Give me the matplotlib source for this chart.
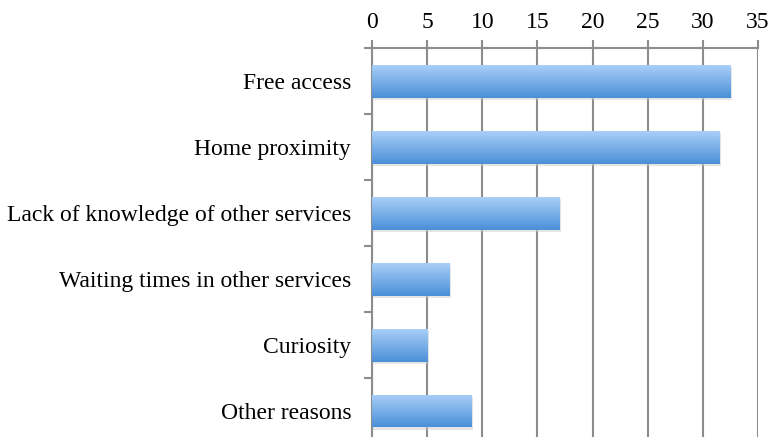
import matplotlib.pyplot as plt
import numpy as np

categories = [
    "Free access",
    "Home proximity",
    "Lack of knowledge of other services",
    "Waiting times in other services",
    "Curiosity",
    "Other reasons",
]
values = [32.5, 31.5, 17, 7, 5, 9]
xticks = [0, 5, 10, 15, 20, 25, 30, 35]

plt.rcParams["font.family"] = ["Liberation Serif", "DejaVu Serif"]

fig = plt.figure(figsize=(7.71, 4.37), dpi=100)
ax = fig.add_axes([0.4825, -0.016, 0.5006, 0.906])

y = np.arange(len(categories))
bars = ax.barh(y, values, height=0.5, color="none", edgecolor="none", zorder=3)

# vertical gradient inside each bar, light on top, darker below
grad = np.linspace(0, 1, 256).reshape(-1, 1)
cmap = plt.matplotlib.colors.LinearSegmentedColormap.from_list(
    "bar", ["#a9cff8", "#4a8fd8"]
)
for b in bars:
    x0, y0 = b.get_x(), b.get_y()
    w, h = b.get_width(), b.get_height()
    # soft shadow
    ax.add_patch(
        plt.Rectangle((x0, y0 + 0.04), w + 0.15, h, color="#cccccc", alpha=0.5,
                      zorder=2, lw=0)
    )
    im = ax.imshow(grad, extent=[x0, x0 + w, y0 + h, y0], aspect="auto",
                   cmap=cmap, zorder=3, interpolation="bicubic")
    im.set_clip_path(b)

ax.set_xlim(0, 35)
ax.set_ylim(len(categories) - 0.5, -0.5)
ax.set_xticks(xticks)
ax.xaxis.tick_top()
ax.tick_params(axis="x", direction="out", length=6, width=1.5, color="#8c8c8c",
               labelsize=17, pad=5)
ax.set_yticks(y)
ax.set_yticklabels(categories)
ax.set_yticks(np.arange(-0.5, len(categories), 1), minor=True)
ax.tick_params(axis="y", which="major", length=0, labelsize=17, pad=15)
ax.tick_params(axis="y", which="minor", direction="out", length=6, width=1.5,
               color="#8c8c8c")

ax.grid(axis="x", color="#8c8c8c", linewidth=1.5, zorder=0)
ax.set_axisbelow(True)
for s in ["right", "bottom"]:
    ax.spines[s].set_visible(False)
for s in ["top", "left"]:
    ax.spines[s].set_color("#8c8c8c")
    ax.spines[s].set_linewidth(1.5)

fig.savefig("out.png", dpi=100)
